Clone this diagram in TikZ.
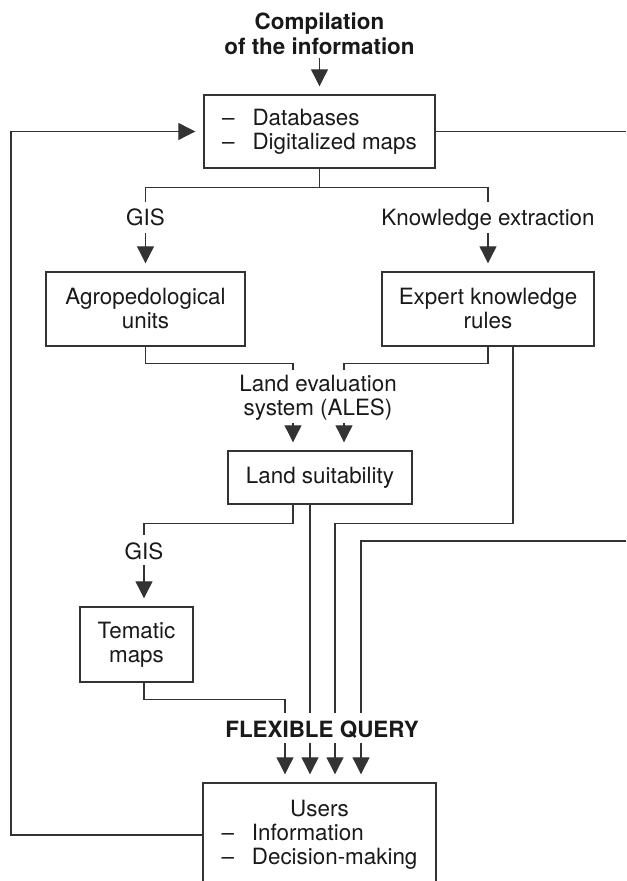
\documentclass[tikz,border=0pt]{standalone}
\usepackage{fontspec}
\setmainfont{TeX Gyre Heros}
\usetikzlibrary{arrows.meta}

\tikzset{
  box/.style={draw=black!80, line width=0.7pt, inner sep=0pt, align=center},
  lbl/.style={inner sep=0pt, align=center},
  link/.style={draw=black!80, line width=0.55pt},
  arr/.style={link, -{Triangle[length=8.5pt,width=8.5pt]}, shorten >=4pt},
}
\newcommand{\dashitem}[1]{\textendash\hspace{0.8em}#1}

\begin{document}
\begin{tikzpicture}[x=0.5pt, y=-0.5pt, font=\fontsize{11.2}{12}\selectfont, text=black!90]
  \useasboundingbox (0,0) rectangle (626,881);
  \clip (0,0) rectangle (626,881);

  % boxes
  \node[box, align=left, minimum width=115.5pt, minimum height=36.5pt] (db) at (319.5,131.5) {\dashitem{Databases}\\\dashitem{Digitalized maps}};
  \node[box, minimum width=99.5pt, minimum height=37pt] (agro) at (145.5,309) {Agropedological\\units};
  \node[box, minimum width=106pt, minimum height=37pt] (expert) at (488,309) {Expert knowledge\\rules};
  \node[box, minimum width=92pt, minimum height=26.5pt] (ls) at (320,477.5) {Land suitability};
  \node[box, minimum width=56.5pt, minimum height=37.5pt] (tem) at (136.5,644.5) {Tematic\\maps};
  \node[box, align=left, text width=98pt, minimum width=116.5pt, minimum height=52pt] (users) at (319.5,835)
    {\hspace*{\fill}Users\hspace*{\fill}\null\\\dashitem{Information}\\\dashitem{Decision-making}};

  % labels
  \node[lbl, font=\fontsize{11.2}{12.5}\selectfont\bfseries] (title) at (319.5,34) {Compilation\\of the information};
  \node[lbl, anchor=base] (gis1) at (145.5,226) {GIS};
  \node[lbl, anchor=base] (kx) at (488,226) {Knowledge extraction};
  \node[lbl] (les) at (318,398) {Land evaluation\\system (ALES)};
  \node[lbl, anchor=base] (gis2) at (144,559) {GIS};
  \node[lbl, anchor=base, font=\fontsize{11.2}{12}\selectfont\bfseries] (fq) at (322,737) {FLEXIBLE QUERY};

  % free ends
  \coordinate (redge) at (626,0);
  \coordinate (rin) at (626,541);
  \coordinate (fbx) at (11,0);
  \coordinate (al-in) at (293,370);
  \coordinate (ar-in) at (344,370);
  \coordinate (al-out) at (293,423);
  \coordinate (ar-out) at (344,423);
  \foreach \i/\qx in {1/285,2/310,3/335,4/361} {
    \coordinate (q\i-in) at (\qx,713);
    \coordinate (q\i-out) at (\qx,743);
  }

  % connectors
  \draw[arr, shorten <=12pt] (title.center) -- (db.north);
  \draw[link] (db.east) -- (db.east -| redge);
  \draw[arr] (users.west) -| (fbx |- db.west) -- (db.west);

  \draw[link] (db.south) -- ++(0,19) coordinate (split);
  \draw[link, shorten >=12pt] (split) -| (gis1.base);
  \draw[link, shorten >=12pt] (split) -| (kx.base);
  \draw[arr, shorten <=3.5pt] (gis1.base) -- (agro.north);
  \draw[arr, shorten <=3.5pt] (kx.base) -- (expert.north);

  \draw[link] (agro.south) -- ++(0,17) -| (al-in);
  \draw[link] (expert.south) -- ++(0,17) -| (ar-in);
  \draw[arr] (al-out) -- (al-out |- ls.north);
  \draw[arr] (ar-out) -- (ar-out |- ls.north);

  \draw[link, shorten >=12pt] ([xshift=-13.5pt]ls.south) -- ++(0,19) -| (gis2.base);
  \draw[arr, shorten <=3pt] (gis2.base) -- (gis2.base |- tem.north);

  \draw[link] ([xshift=3.75pt]tem.south) -- ++(0,17) -| (q1-in);
  \draw[link] ([xshift=-5pt]ls.south) -- (q2-in);
  \draw[link] ([xshift=12.5pt]expert.south) -- ++(0,177) -| (q3-in);
  \draw[link] (rin) -| (q4-in);
  \foreach \i in {1,...,4}
    \draw[arr] (q\i-out) -- (q\i-out |- users.north);
\end{tikzpicture}
\end{document}
